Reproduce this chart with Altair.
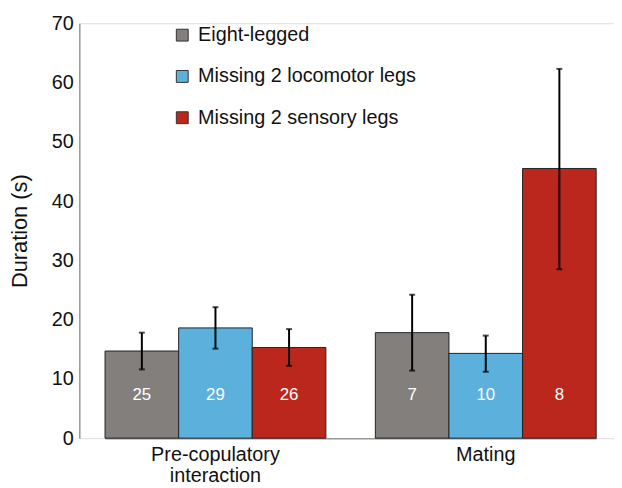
import altair as alt
import pandas as pd

categories = ["Pre-copulatory interaction", "Mating"]
groups = ["Eight-legged", "Missing 2 locomotor legs", "Missing 2 sensory legs"]
colors = ["#837f7c", "#5cb0dc", "#bb271d"]

means_pre = [14.7, 18.6, 15.3]
lo_pre = [11.6, 15.1, 12.2]
hi_pre = [17.8, 22.1, 18.4]
n_pre = [25, 29, 26]

means_mat = [17.8, 14.3, 45.5]
lo_mat = [11.4, 11.2, 28.5]
hi_mat = [24.2, 17.3, 62.3]
n_mat = [7, 10, 8]

rows = []
for cat, m, lo, hi, n in [
    (categories[0], means_pre, lo_pre, hi_pre, n_pre),
    (categories[1], means_mat, lo_mat, hi_mat, n_mat),
]:
    for g, mv, l, h, nv in zip(groups, m, lo, hi, n):
        rows.append({"cat": cat, "group": g, "mean": mv, "lo": l, "hi": h, "n": str(nv)})
df = pd.DataFrame(rows)

FONT = "Liberation Sans"

x = alt.X(
    "cat:N",
    sort=categories,
    scale=alt.Scale(range=[26, 522], paddingInner=0.183, paddingOuter=0),
    axis=alt.Axis(
        title=None,
        labelAngle=0,
        ticks=False,
        labelPadding=7,
        labelFontSize=20,
        labelFont=FONT,
        labelColor="#111",
        labelLineHeight=21,
        domainColor="#999",
        domainWidth=1.5,
        labelExpr="datum.label == 'Pre-copulatory interaction' ? ['Pre-copulatory', 'interaction'] : datum.label",
    ),
)
xo = alt.XOffset("group:N", sort=groups, scale=alt.Scale(paddingInner=0, paddingOuter=0))
yscale = alt.Scale(domain=[0, 70], nice=False)

base = alt.Chart(df)

bars = base.mark_bar(stroke="#222", strokeWidth=1).encode(
    x=x,
    xOffset=xo,
    y=alt.Y(
        "mean:Q",
        scale=yscale,
        axis=alt.Axis(
            title="Duration (s)",
            titleFontSize=22,
            titleFont=FONT,
            titleFontWeight="normal",
            titleColor="#111",
            titlePadding=20,
            values=[0, 10, 20, 30, 40, 50, 60, 70],
            ticks=False,
            labelPadding=6,
            labelFontSize=20,
            labelFont=FONT,
            labelColor="#111",
            grid=False,
            domainColor="#999",
            domainWidth=1.5,
        ),
    ),
    color=alt.Color(
        "group:N",
        sort=groups,
        scale=alt.Scale(domain=groups, range=colors),
        legend=alt.Legend(
            title=None,
            orient="none",
            legendX=94,
            legendY=2,
            symbolType="square",
            symbolSize=144,
            symbolStrokeColor="#333",
            symbolStrokeWidth=1,
            symbolOpacity=1,
            labelFontSize=20,
            labelFont=FONT,
            labelColor="#111",
            labelOffset=6,
            labelLimit=400,
            rowPadding=21.7,
            padding=0,
        ),
    ),
)

rules = base.mark_rule(color="black", strokeWidth=2).encode(
    x=x, xOffset=xo, y=alt.Y("lo:Q", scale=yscale), y2="hi:Q"
)
cap_lo = base.mark_tick(color="black", thickness=2, size=6).encode(
    x=x, xOffset=xo, y=alt.Y("lo:Q", scale=yscale)
)
cap_hi = base.mark_tick(color="black", thickness=2, size=6).encode(
    x=x, xOffset=xo, y=alt.Y("hi:Q", scale=yscale)
)
labels = base.mark_text(color="white", fontSize=17, font=FONT, baseline="middle").encode(
    x=x, xOffset=xo, y=alt.datum(7.2), text="n:N"
)

chart = (
    alt.layer(bars, rules, cap_lo, cap_hi, labels)
    .properties(
        width=540,
        height=419,
        autosize=alt.AutoSizeParams(type="none"),
        padding={"left": 72, "top": 13, "right": 0, "bottom": 56},
    )
    .configure_view(stroke=None)
    .configure(background="white")
)

chart.save("out.html", embed_options={"renderer": "svg", "actions": False})
